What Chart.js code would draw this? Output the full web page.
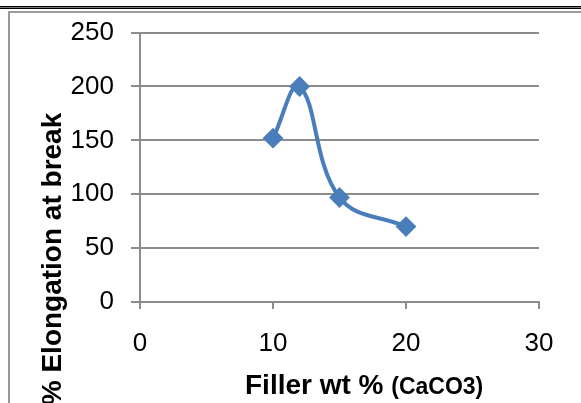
<!DOCTYPE html>
<html>
<head>
<meta charset="utf-8">
<script src="https://cdn.jsdelivr.net/npm/chart.js@4/dist/chart.umd.min.js"></script>
<style>
  html, body { margin: 0; padding: 0; background: #fff; }
  #wrap { position: relative; width: 581px; height: 403px; overflow: hidden; }
  canvas { position: absolute; left: 0; top: 0; }
  .ln { position: absolute; }
</style>
</head>
<body>
<div id="wrap">
  <canvas id="c" width="581" height="403"></canvas>
  <div class="ln" style="left:0;top:6px;width:581px;height:1px;background:#000"></div>
  <div class="ln" style="left:0;top:7px;width:581px;height:1px;background:#777"></div>
  <div class="ln" style="left:0;top:8px;width:581px;height:1px;background:#000"></div>
  <div class="ln" style="left:8px;top:11px;width:573px;height:2px;background:#9a9a9a"></div>
  <div class="ln" style="left:8px;top:11px;width:2px;height:392px;background:#9a9a9a"></div>
</div>
<script>
// ---- data ----
const fillerWt = [10, 12, 15, 20];            // Filler wt % (CaCO3)
const elongation = [152, 200, 97, 70];        // % Elongation at break
const xTicks = [0, 10, 20, 30];
const yTicks = [0, 50, 100, 150, 200, 250];
const xTitleMain = 'Filler wt % ';
const xTitleSub = '(CaCO3)';
const yTitle = '% Elongation at break';

const points = fillerWt.map((x, i) => ({ x: x, y: elongation[i] }));
const gridCol = '#8c8c8c';
const blue = '#4a7ebb';

const titlePlugin = {
  id: 'titles',
  afterDraw(chart) {
    const ctx = chart.ctx;
    ctx.save();
    ctx.fillStyle = '#000';
    ctx.textBaseline = 'alphabetic';
    // x title
    ctx.font = 'bold 28px "Liberation Sans", Arial, sans-serif';
    ctx.textAlign = 'left';
    const w1 = ctx.measureText(xTitleMain).width;
    ctx.fillText(xTitleMain, 245, 394);
    ctx.font = 'bold 23px "Liberation Sans", Arial, sans-serif';
    ctx.fillText(xTitleSub, 245 + w1, 394);
    // y title
    ctx.font = 'bold 28px "Liberation Sans", Arial, sans-serif';
    ctx.translate(61, 259);
    ctx.rotate(-Math.PI / 2);
    ctx.textAlign = 'center';
    ctx.fillText(yTitle, 0, 0);
    ctx.restore();
  }
};

new Chart(document.getElementById('c'), {
  type: 'line',
  data: {
    datasets: [{
      data: points,
      borderColor: blue,
      backgroundColor: blue,
      borderWidth: 4,
      tension: 0.4,
      pointStyle: 'rectRot',
      pointRadius: 9,
      pointBorderWidth: 2,
      pointBackgroundColor: blue,
      pointBorderColor: blue,
      fill: false
    }]
  },
  options: {
    responsive: false,
    devicePixelRatio: 1,
    animation: false,
    events: [],
    layout: { padding: { left: 0, right: 42, top: 32, bottom: 0 } },
    plugins: { legend: { display: false }, tooltip: { enabled: false }, title: { display: false } },
    scales: {
      x: {
        type: 'linear',
        min: 0, max: 30,
        afterFit(s) { s.height = 101; },
        afterBuildTicks(s) { s.ticks = xTicks.map(v => ({ value: v })); },
        ticks: { color: '#000', font: { family: '"Liberation Sans", Arial, sans-serif', size: 26 }, padding: 19, maxRotation: 0 },
        grid: { drawOnChartArea: false, drawTicks: true, tickLength: 7, color: gridCol, lineWidth: 2 },
        border: { display: true, color: gridCol, width: 2 }
      },
      y: {
        min: 0, max: 250,
        afterFit(s) { s.width = 140; },
        afterBuildTicks(s) { s.ticks = yTicks.map(v => ({ value: v })); },
        ticks: { color: '#000', font: { family: '"Liberation Sans", Arial, sans-serif', size: 26 }, padding: 17 },
        grid: { drawOnChartArea: true, drawTicks: true, tickLength: 9, color: gridCol, lineWidth: 2 },
        border: { display: true, color: gridCol, width: 2 }
      }
    }
  },
  plugins: [titlePlugin]
});
</script>
</body>
</html>
